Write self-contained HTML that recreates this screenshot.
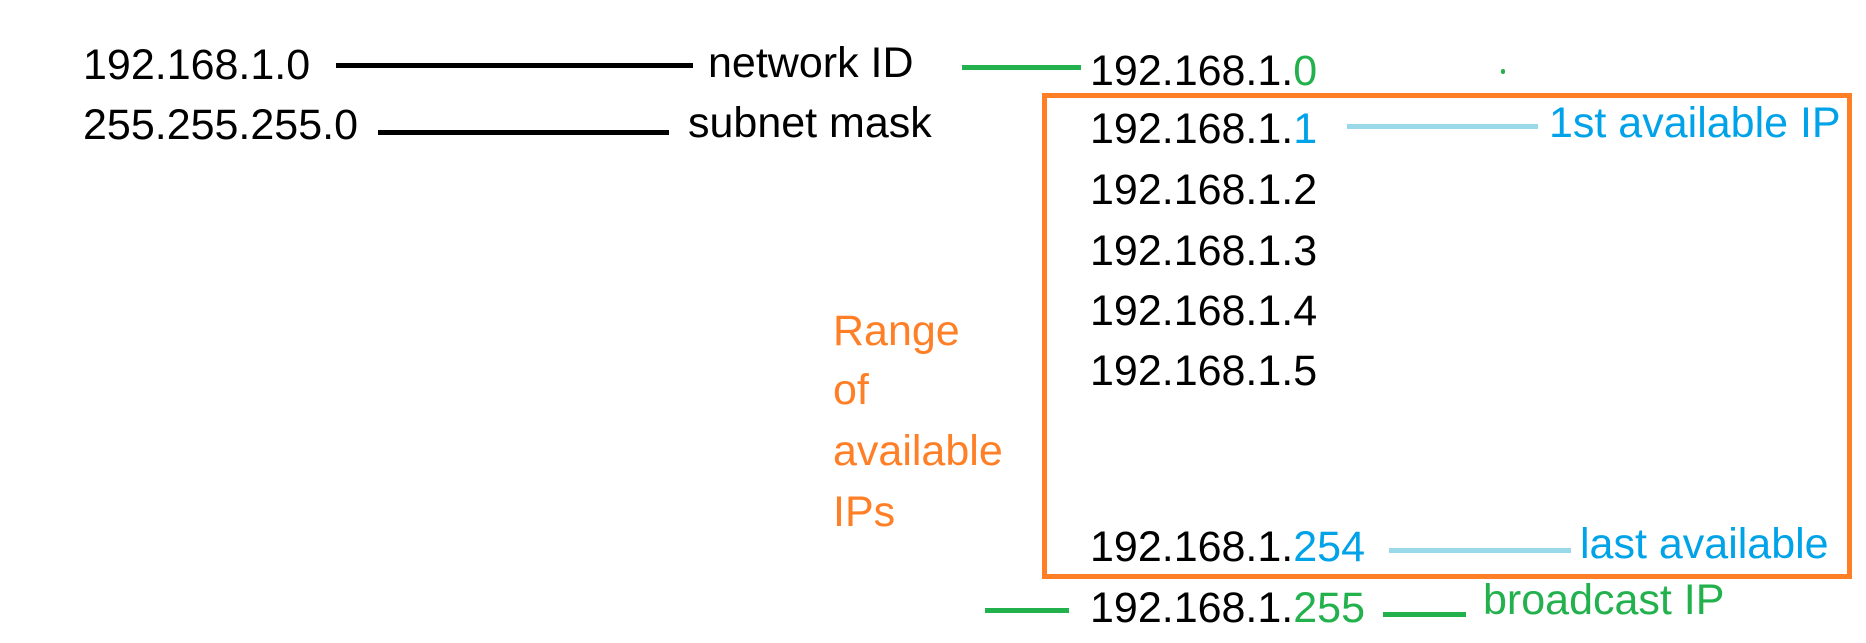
<!DOCTYPE html>
<html><head><meta charset="utf-8"><style>
html,body{margin:0;padding:0;background:#fff;}
body{width:1866px;height:643px;position:relative;overflow:hidden;font-family:"Liberation Sans","DejaVu Sans",sans-serif;font-size:43px;}
.t{position:absolute;line-height:50px;height:50px;white-space:nowrap;color:#000;}
.l{position:absolute;height:5px;}
.g{color:#22b14c}.b{color:#00a2e8}.o{color:#ff7f27}
</style></head><body>
<div class="t" style="left:83px;top:40px">192.168.1.0</div>
<div class="l" style="left:336px;top:63px;width:357px;background:#000"></div>
<div class="t" style="left:708px;top:38px">network ID</div>
<div class="l" style="left:962px;top:65px;width:119px;background:#22b14c"></div>
<div class="t" style="left:1090px;top:46px">192.168.1.<span class="g">0</span></div>
<div style="position:absolute;left:1501px;top:69px;width:4px;height:5px;background:#22b14c;border-radius:2px"></div>

<div class="t" style="left:83px;top:100px">255.255.255.0</div>
<div class="l" style="left:378px;top:130px;width:291px;background:#000"></div>
<div class="t" style="left:688px;top:98px">subnet mask</div>

<div style="position:absolute;left:1042px;top:93px;width:800px;height:476px;border:5px solid #ff7f27"></div>

<div class="t" style="left:1090px;top:104px">192.168.1.<span class="b">1</span></div>
<div class="l" style="left:1347px;top:124px;width:191px;background:#99d9ea"></div>
<div class="t b" style="left:1549px;top:98px">1st available IP</div>
<div class="t" style="left:1090px;top:165px">192.168.1.2</div>
<div class="t" style="left:1090px;top:226px">192.168.1.3</div>
<div class="t" style="left:1090px;top:286px">192.168.1.4</div>
<div class="t" style="left:1090px;top:346px">192.168.1.5</div>
<div class="t" style="left:1090px;top:522px">192.168.1.<span class="b">254</span></div>
<div class="l" style="left:1389px;top:548px;width:182px;background:#99d9ea"></div>
<div class="t b" style="left:1580px;top:519px">last available</div>

<div class="t o" style="left:833px;top:306px">Range</div>
<div class="t o" style="left:833px;top:365px">of</div>
<div class="t o" style="left:833px;top:426px">available</div>
<div class="t o" style="left:833px;top:487px">IPs</div>

<div class="l" style="left:985px;top:608px;width:84px;background:#22b14c"></div>
<div class="t" style="left:1090px;top:583px">192.168.1.<span class="g">255</span></div>
<div class="l" style="left:1383px;top:612px;width:83px;background:#22b14c"></div>
<div class="t g" style="left:1483px;top:575px">broadcast IP</div>
</body></html>
